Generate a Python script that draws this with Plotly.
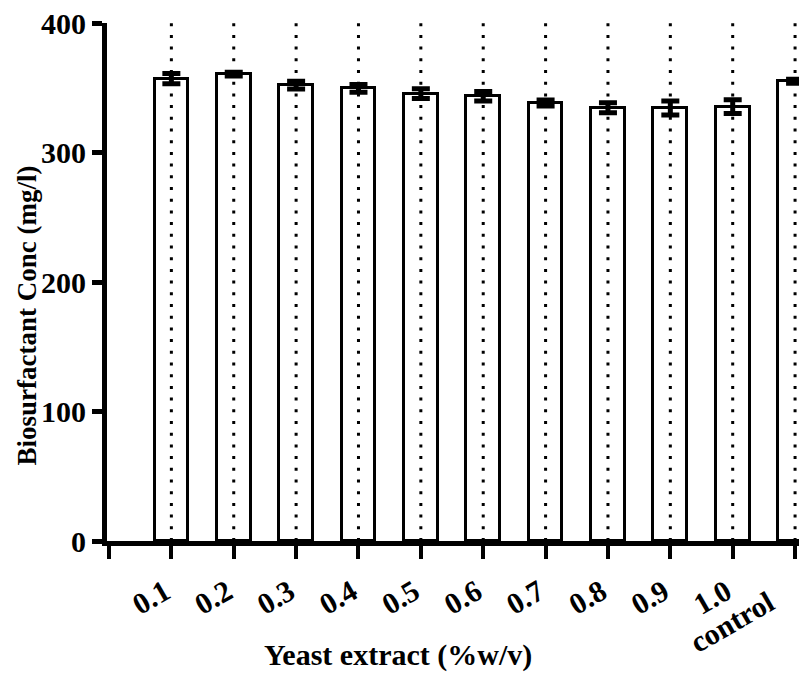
import plotly.graph_objects as go

# Biosurfactant yield for each yeast-extract concentration
categories = ["0.1", "0.2", "0.3", "0.4", "0.5", "0.6", "0.7", "0.8", "0.9", "1.0", "control"]
conc_mean = [357, 360.5, 352, 349.5, 345.5, 343.5, 338.3, 334.5, 334.4, 335.5, 355]
conc_err = [4, 1.5, 3, 3, 3.8, 3.7, 2.3, 3.9, 5.4, 5.3, 1.5]
y_ticks = [0, 100, 200, 300, 400]

positions = list(range(1, len(categories) + 1))
FONT = "Liberation Serif"
NBSP = "\u00a0"

# trailing non-breaking spaces nudge the slanted labels left of their ticks
tick_text = [""] + [c + NBSP * (4 if c == "control" else 1) for c in categories]

fig = go.Figure()

fig.add_trace(go.Bar(
    x=positions,
    y=conc_mean,
    width=0.54,
    marker=dict(color="white", line=dict(color="black", width=3)),
    error_y=dict(type="data", array=conc_err, visible=True,
                 color="black", thickness=5, width=9),
    showlegend=False,
))

# dotted guide line through the centre of every column
gx, gy = [], []
for p in positions:
    gx += [p, p, None]
    gy += [y_ticks[0], y_ticks[-1], None]
fig.add_trace(go.Scatter(
    x=gx, y=gy, mode="lines",
    line=dict(color="black", width=3, dash="3px,8.7px"),
    hoverinfo="skip", showlegend=False,
))

fig.update_layout(
    width=806, height=677,
    margin=dict(l=107, r=0, t=23, b=136),
    plot_bgcolor="white", paper_bgcolor="white",
    font=dict(family=FONT, color="black", size=26, weight="bold"),
    bargap=0,
    annotations=[
        dict(text="Yeast extract (%w/v)", xref="paper", yref="paper",
             x=0.42, y=-0.22, xanchor="center", yanchor="middle",
             showarrow=False,
             font=dict(family=FONT, size=30, weight="bold", color="black")),
        dict(text="Biosurfactant Conc (mg/l)", xref="paper", yref="paper",
             x=-0.115, y=0.436, xanchor="center", yanchor="middle",
             textangle=-90, showarrow=False,
             font=dict(family=FONT, size=27, weight="bold", color="black")),
    ],
)

fig.update_xaxes(
    range=[-0.032, 11.063],
    tickvals=[0] + positions,
    ticktext=tick_text,
    tickangle=-30,
    ticklabeloverflow="allow",
    tickfont=dict(family=FONT, size=30, weight="bold", color="black"),
    ticks="outside", ticklen=13, tickwidth=4, tickcolor="black",
    showline=True, linewidth=5, linecolor="black",
    showgrid=False, zeroline=False,
)

fig.update_yaxes(
    range=[0, 400],
    tickvals=y_ticks,
    tickfont=dict(family=FONT, size=30, weight="bold", color="black"),
    ticks="outside", ticklen=10, tickwidth=5, tickcolor="black",
    showline=True, linewidth=5, linecolor="black",
    showgrid=False, zeroline=False,
)

fig.write_html("out.html")
